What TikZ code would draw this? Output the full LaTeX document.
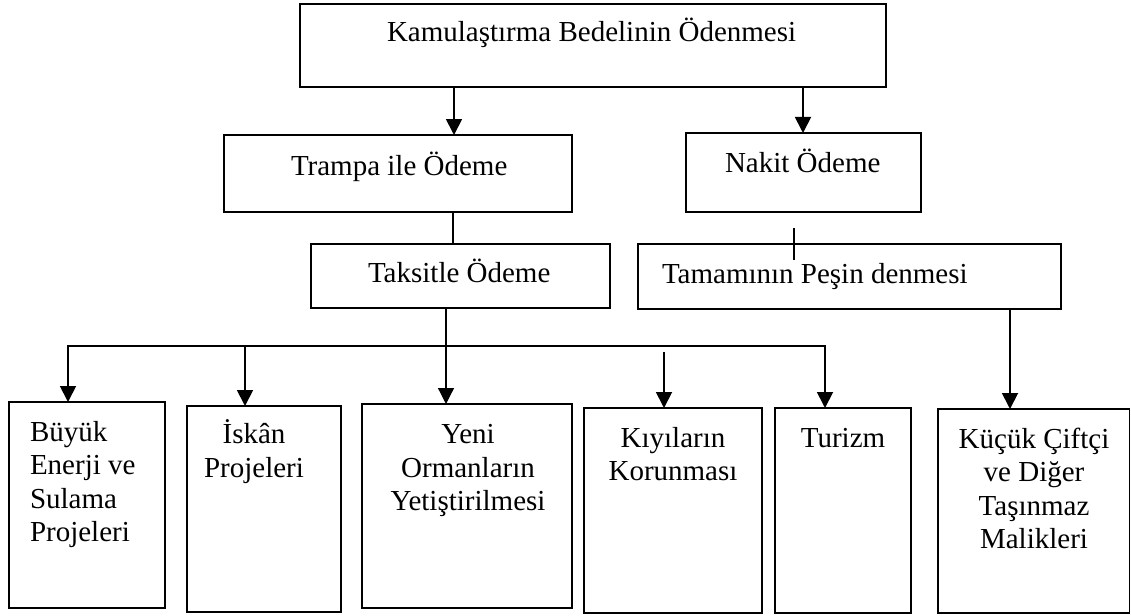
\documentclass[tikz,border=0pt]{standalone}
\usepackage{fontspec}
\setmainfont{Liberation Serif}
\usetikzlibrary{arrows.meta}
\tikzset{
  box/.style={draw, line width=1.9pt, inner sep=0pt, outer sep=0pt},
  txt/.style={inner sep=0pt, outer sep=0pt, font=\fontsize{29}{33.5}\selectfont},
  arr/.style={line width=1.8pt, -{Triangle[width=16pt,length=16pt]}},
  arrthin/.style={line width=1.2pt, -{Triangle[width=16pt,length=16pt]}},
  thinline/.style={line width=1.2pt},
}
\newcommand\mybox[5]{\node[box, minimum width={(#4-#2)*1pt}, minimum height={(#5-#3)*1pt}] (#1) at ({(#2+#4)/2},{(#3+#5)/2}) {};}
\begin{document}
\begin{tikzpicture}[x=1pt,y=-1pt]
\useasboundingbox (0,0) rectangle (1131,615);
\fill[white] (0,0) rectangle (1131,615);

% boxes
\mybox{top}{300}{4}{886}{87}
\mybox{trampa}{224}{135}{572}{212}
\mybox{nakit}{686}{133}{921}{212}
\mybox{taksit}{311}{244}{610}{308}
\mybox{tamam}{638}{244}{1061}{309}
\mybox{buyuk}{9}{402}{165}{608}
\mybox{iskan}{187}{406}{341}{612}
\mybox{yeni}{362}{404}{572}{608}
\mybox{kiyi}{584}{408}{762}{613}
\mybox{turizm}{775}{408}{911}{613}
\mybox{kucuk}{938}{409}{1129.5}{613}

% texts
\node[txt, anchor=base west] (tTop) at (387,42) {Kamulaştırma Bedelinin Ödenmesi};
\node[txt, anchor=base west] (tTrampa) at (291,175) {Trampa ile Ödeme};
\node[txt, anchor=base west] (tNakit) at (725,172) {Nakit Ödeme};
\node[txt, anchor=base west] (tTaksit) at (368,282) {Taksitle Ödeme};
\node[txt, anchor=base west] (tTamam) at (662,283) {Tamamının Peşin denmesi};

\node[txt, anchor=base west] (tB1) at (30,441) {Büyük};
\node[txt, anchor=base west] (tB2) at (30,474.6) {Enerji ve};
\node[txt, anchor=base west] (tB3) at (30,508.2) {Sulama};
\node[txt, anchor=base west] (tB4) at (30,541.8) {Projeleri};

\node[txt, anchor=base] (tI1) at (254,443) {İskân};
\node[txt, anchor=base] (tI2) at (254,477) {Projeleri};

\node[txt, anchor=base] (tY1) at (468,443) {Yeni};
\node[txt, anchor=base] (tY2) at (468,477) {Ormanların};
\node[txt, anchor=base] (tY3) at (468,510.5) {Yetiştirilmesi};

\node[txt, anchor=base] (tK1) at (673,447) {Kıyıların};
\node[txt, anchor=base] (tK2) at (673,480.5) {Korunması};

\node[txt, anchor=base] (tT1) at (843,447) {Turizm};

\node[txt, anchor=base] (tC1) at (1034,448) {Küçük Çiftçi};
\node[txt, anchor=base] (tC2) at (1034,481.5) {ve Diğer};
\node[txt, anchor=base] (tC3) at (1034,515) {Taşınmaz};
\node[txt, anchor=base] (tC4) at (1034,548.5) {Malikleri};

% connector x positions and free ends
\coordinate (xA) at (454,0);
\coordinate (xN) at (803,0);
\coordinate (xT) at (453,0);
\coordinate (xS) at (446,0);
\coordinate (xC) at (1010,0);
\coordinate (xI) at (245,0);
\coordinate (hmid) at (446,346);
\coordinate (hl) at (68,346);
\coordinate (hr) at (825,346);
\coordinate (kStart) at (664,352);
\coordinate (sTop) at (794,228);
\coordinate (sBot) at (794,260);

% connectors
\draw[arr] (top.south -| xA) -- (trampa.north -| xA);
\draw[arr] (top.south -| xN) -- (nakit.north -| xN);
\draw[thinline] (trampa.south -| xT) -- (taksit.north -| xT);
\draw[thinline] (sTop) -- (sBot);
\draw[arrthin] (taksit.south -| xS) -- (yeni.north -| xS);
\draw[arr] (hmid) -- (hl) -- (buyuk.north -| hl);
\draw[arr] (hmid) -- (hr) -- (turizm.north -| hr);
\draw[arr] (hl -| xI) -- (iskan.north -| xI);
\draw[arr] (kStart) -- (kiyi.north -| kStart);
\draw[arr] (tamam.south -| xC) -- (kucuk.north -| xC);
\end{tikzpicture}
\end{document}
